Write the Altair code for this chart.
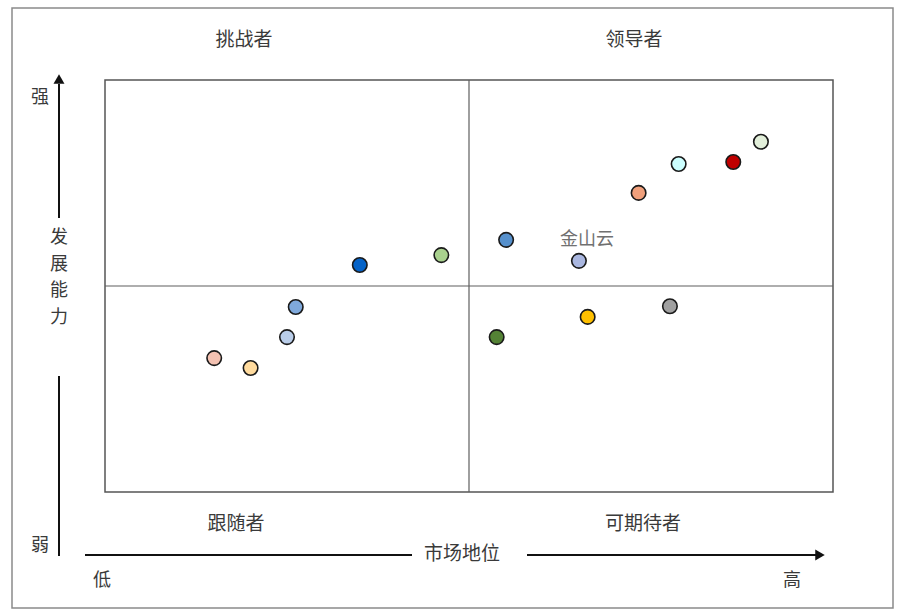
import altair as alt
import pandas as pd

# Market position (x) and development capability (y), 0-10 scale; midpoint 5
point_ids = ["p1", "p2", "p3", "p4", "p5", "p6", "p7", "p8", "p9", "p10", "p11", "p12", "p13", "p14", "p15"]
market_pos = [1.50, 2.00, 2.50, 2.62, 3.50, 4.62, 5.51, 6.51, 7.33, 7.88, 8.63, 9.01, 5.38, 6.63, 7.76]
dev_ability = [3.25, 3.01, 3.76, 4.49, 5.51, 5.75, 6.12, 5.61, 7.26, 7.96, 8.01, 8.50, 3.76, 4.25, 4.51]
fill_colors = ["#F4C2B2", "#FFDB9E", "#B9CDE9", "#7FA9DC", "#0563C8", "#A9D18E", "#5690CC",
               "#AAB7E0", "#F0A07C", "#CCFFFF", "#C00000", "#E2EFDA", "#548235", "#FFC000", "#A0A0A0"]

label_text = ["金山云"]
label_x = [6.62]
label_y = [6.12]

mid_x = [5.0]
mid_y = [5.0]

quadrant_names = ["挑战者", "领导者", "跟随者", "可期待者"]
axis_words = ["强", "弱", "低", "高"]
y_title_chars = ["发", "展", "能", "力"]
x_title = "市场地位"

FONT = "Noto Sans CJK SC"
TXT = "#3a3a3a"

pts = pd.DataFrame({"id": point_ids, "x": market_pos, "y": dev_ability})
xs = alt.Scale(domain=[0, 10], nice=False, zero=False)
ys = alt.Scale(domain=[0, 10], nice=False, zero=False)

one = pd.DataFrame({"a": [0]})

# outer frame
outer = alt.Chart(one).mark_rect(fill="white", fillOpacity=0, stroke="#8a8a8a", strokeWidth=1.5).encode(
    x=alt.value(-93), x2=alt.value(788), y=alt.value(-72), y2=alt.value(528))

vline = alt.Chart(pd.DataFrame({"x": mid_x})).mark_rule(color="#5e5e5e", strokeWidth=1.2).encode(
    x=alt.X("x:Q", scale=xs, axis=None))
hline = alt.Chart(pd.DataFrame({"y": mid_y})).mark_rule(color="#5e5e5e", strokeWidth=1.2).encode(
    y=alt.Y("y:Q", scale=ys, axis=None))

points = alt.Chart(pts).mark_circle(size=210, opacity=1, stroke="#1a1a1a", strokeWidth=1.6).encode(
    x=alt.X("x:Q", scale=xs, axis=None),
    y=alt.Y("y:Q", scale=ys, axis=None),
    color=alt.Color("id:N", scale=alt.Scale(domain=point_ids, range=fill_colors), legend=None),
)

label = alt.Chart(pd.DataFrame({"t": label_text, "x": label_x, "y": label_y})).mark_text(
    font=FONT, fontSize=18, color="#707070", align="center", baseline="middle").encode(
    x=alt.X("x:Q", scale=xs, axis=None), y=alt.Y("y:Q", scale=ys, axis=None), text="t:N")

def txt(s, px, py, size=19):
    return alt.Chart(pd.DataFrame({"t": [s]})).mark_text(
        font=FONT, fontSize=size, color=TXT, align="center", baseline="middle").encode(
        x=alt.value(px - 105), y=alt.value(py - 80), text="t:N")

def rule(x1, y1, x2, y2):
    return alt.Chart(one).mark_rule(color="#111111", strokeWidth=2).encode(
        x=alt.value(x1 - 105), y=alt.value(y1 - 80), x2=alt.value(x2 - 105), y2=alt.value(y2 - 80))

def head(px, py, shape):
    return alt.Chart(one).mark_point(shape=shape, size=120, filled=True, opacity=1, color="#111111").encode(
        x=alt.value(px - 105), y=alt.value(py - 80))

texts = [
    txt(quadrant_names[0], 244, 40),
    txt(quadrant_names[1], 634, 40),
    txt(quadrant_names[2], 236, 524),
    txt(quadrant_names[3], 643, 524),
    txt(axis_words[0], 40, 98, 18),
    txt(axis_words[1], 40, 546, 18),
    txt(axis_words[2], 102, 581, 18),
    txt(axis_words[3], 792, 581, 18),
    txt(x_title, 462, 554),
]
for i, ch in enumerate(y_title_chars):
    texts.append(txt(ch, 59, 238 + i * 26.5, 18))

arrows = [
    rule(59, 84, 59, 218),
    rule(59, 376, 59, 556),
    head(59, 79, "triangle-up"),
    rule(85, 555, 412, 555),
    rule(527, 555, 816, 555),
    head(820, 555, "triangle-right"),
]

chart = alt.layer(outer, vline, hline, *arrows, *texts, points, label).properties(
    width=728, height=412,
    padding={"left": 105, "top": 80, "right": 68, "bottom": 124},
    autosize="none",
    background="white",
).configure_view(stroke="#555555", strokeWidth=1.5)

chart.save("out.html", embed_options={"renderer": "svg", "actions": False})
